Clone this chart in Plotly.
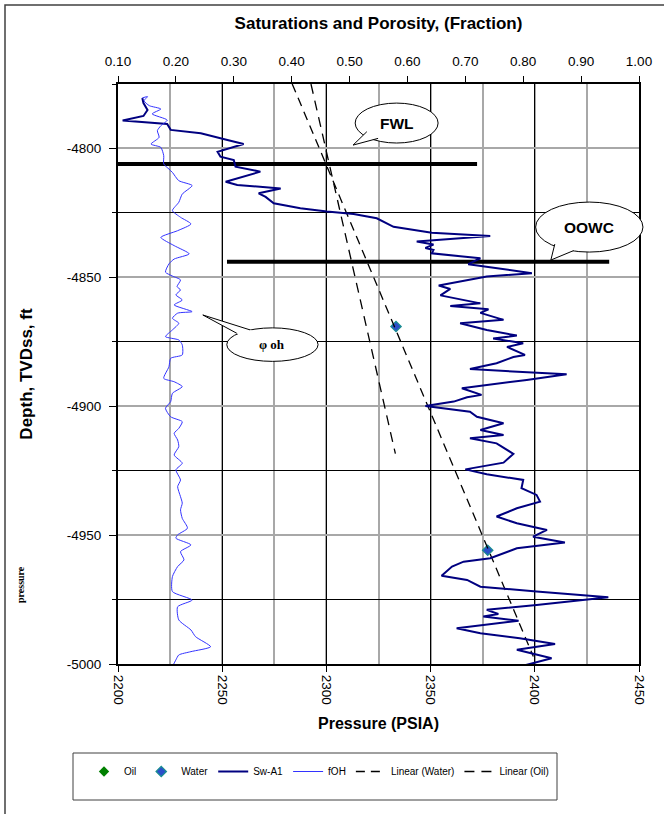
import plotly.graph_objects as go

# ---------------- data ----------------
# Sw-A1 log: water saturation (fraction) vs depth (ft TVDss)
sw_depth = [-4780.4, -4782.4, -4785.1, -4787.4, -4789.2, -4789.7, -4790.5, -4792.8, -4794.1, -4796.7,
            -4798.3, -4801.3, -4803.2, -4804.5, -4807.1, -4809.0, -4812.9, -4814.2, -4815.5, -4817.4,
            -4818.8, -4821.3, -4823.2, -4824.5, -4825.4, -4827.1, -4830.4, -4832.7, -4834.0, -4836.1,
            -4837.3, -4838.6, -4839.4, -4840.7, -4842.6, -4844.9, -4848.4, -4849.7, -4851.7, -4853.2,
            -4854.5, -4857.0, -4860.1, -4861.1, -4862.4, -4863.8, -4866.5, -4867.8, -4870.4, -4872.6,
            -4873.7, -4875.6, -4877.0, -4880.1, -4880.9, -4883.3, -4885.6, -4886.2, -4887.6, -4889.8,
            -4893.0, -4895.6, -4896.5, -4898.2, -4899.9, -4902.1, -4904.1, -4906.6, -4909.2, -4911.2,
            -4912.4, -4914.4, -4918.5, -4921.9, -4924.5, -4926.4, -4928.6, -4931.8, -4934.4, -4937.0,
            -4939.6, -4942.8, -4945.4, -4948.0, -4950.6, -4952.9, -4955.1, -4959.0, -4960.3, -4962.2,
            -4965.8, -4967.4, -4970.0, -4971.9, -4974.1, -4977.1, -4979.0, -4980.6, -4981.6, -4983.2,
            -4986.1, -4988.1, -4990.0, -4992.2, -4994.5, -4997.8, -5001.0]
sw_frac = [0.142, 0.144, 0.151, 0.144, 0.108, 0.145, 0.185, 0.191, 0.243, 0.289,
           0.317, 0.272, 0.277, 0.300, 0.303, 0.346, 0.286, 0.306, 0.381, 0.343,
           0.355, 0.369, 0.415, 0.461, 0.507, 0.547, 0.576, 0.642, 0.743, 0.616,
           0.645, 0.631, 0.645, 0.642, 0.726, 0.705, 0.815, 0.737, 0.691, 0.654,
           0.674, 0.657, 0.726, 0.674, 0.740, 0.726, 0.766, 0.691, 0.737, 0.789,
           0.748, 0.800, 0.772, 0.803, 0.783, 0.754, 0.708, 0.754, 0.875, 0.806,
           0.694, 0.728, 0.703, 0.680, 0.631, 0.708, 0.720, 0.766, 0.726, 0.766,
           0.708, 0.754, 0.783, 0.766, 0.700, 0.737, 0.800, 0.797, 0.823, 0.829,
           0.789, 0.754, 0.789, 0.841, 0.817, 0.872, 0.789, 0.743, 0.697, 0.677,
           0.659, 0.703, 0.726, 0.823, 0.947, 0.823, 0.737, 0.757, 0.731, 0.792,
           0.685, 0.726, 0.794, 0.855, 0.789, 0.849, 0.794]

# fOH log: open-hole porosity (fraction) vs depth
phi_depth = [-4780.4, -4779.9, -4781.5, -4783.4, -4784.7, -4786.6, -4789.0, -4791.2, -4793.1, -4795.7,
             -4798.3, -4799.6, -4802.8, -4806.0, -4808.0, -4809.3, -4812.5, -4814.4, -4817.7, -4820.9,
             -4824.1, -4826.7, -4829.3, -4831.9, -4834.5, -4837.7, -4840.9, -4842.9, -4844.8, -4848.0,
             -4849.5, -4851.0, -4853.6, -4854.9, -4856.8, -4858.8, -4860.7, -4863.3, -4863.9, -4865.9,
             -4867.8, -4870.4, -4873.0, -4874.3, -4876.2, -4880.1, -4881.4, -4884.7, -4889.2, -4890.5,
             -4892.4, -4895.0, -4898.2, -4900.8, -4904.1, -4906.0, -4908.6, -4910.5, -4913.1, -4915.7,
             -4918.9, -4922.1, -4924.7, -4928.6, -4931.2, -4935.1, -4937.6, -4940.2, -4943.5, -4947.3,
             -4949.9, -4951.2, -4953.8, -4956.4, -4959.6, -4962.2, -4966.1, -4971.9, -4975.2, -4977.8,
             -4982.9, -4986.8, -4989.4, -4993.3, -4995.2, -4996.5, -4998.4, -5001.0]
phi_frac = [0.142, 0.151, 0.145, 0.154, 0.174, 0.159, 0.185, 0.174, 0.168, 0.171,
            0.157, 0.174, 0.179, 0.179, 0.188, 0.194, 0.205, 0.228, 0.211, 0.205,
            0.194, 0.208, 0.226, 0.203, 0.174, 0.197, 0.223, 0.197, 0.188, 0.182,
            0.194, 0.208, 0.202, 0.208, 0.200, 0.211, 0.197, 0.228, 0.203, 0.194,
            0.205, 0.194, 0.182, 0.205, 0.211, 0.211, 0.191, 0.188, 0.179, 0.197,
            0.211, 0.194, 0.191, 0.182, 0.191, 0.211, 0.205, 0.197, 0.203, 0.205,
            0.197, 0.211, 0.200, 0.208, 0.203, 0.208, 0.211, 0.208, 0.211, 0.220,
            0.203, 0.200, 0.226, 0.208, 0.214, 0.203, 0.194, 0.194, 0.228, 0.203,
            0.205, 0.226, 0.234, 0.260, 0.226, 0.205, 0.200, 0.194]

# pressure points
water_pressure = [2333.4, 2377.4]
water_depth = [-4869.1, -4955.9]
oil_pressure = [None]
oil_depth = [None]

# trend lines
lin_water_p = [2283.6, 2399.3]
lin_water_d = [-4775.0, -4997.1]
lin_oil_p = [2292.6, 2333.1]
lin_oil_d = [-4775.0, -4918.4]

# contacts
fwl_p = [2197.0, 2372.3]
fwl_d = [-4806.0, -4806.0]
oowc_p = [2252.3, 2435.7]
oowc_d = [-4844.0, -4844.0]

pressure_ticks = [2200, 2250, 2300, 2350, 2400, 2450]
frac_ticks = [0.1, 0.2, 0.3, 0.4, 0.5, 0.6, 0.7, 0.8, 0.9, 1.0]
depth_ticks = [-4800, -4850, -4900, -4950, -5000]

# ---------------- layout geometry ----------------
W, H = 664, 814
ML, MR, MT, MB = 118, 25, 84, 150
PW = W - ML - MR
PH = H - MT - MB
P0, P1 = 2200, 2450
D0, D1 = -5000, -4775


def px_to_paper_x(px):
    return (px - ML) / PW


def py_to_paper_y(py):
    return (H - MB - py) / PH


def p_to_paper(p):
    return (p - P0) / (P1 - P0)


fig = go.Figure()

fig.add_trace(go.Scatter(x=oil_pressure, y=oil_depth, mode="markers", name="Oil",
                         marker=dict(symbol="diamond", color="#008000", size=8)))
fig.add_trace(go.Scatter(x=water_pressure, y=water_depth, mode="markers", name="Water",
                         marker=dict(symbol="diamond", color="#2b4fc9", size=8,
                                     line=dict(color="#1a9090", width=1.2))))
fig.add_trace(go.Scatter(x=sw_frac, y=sw_depth, mode="lines", name="Sw-A1", xaxis="x2",
                         line=dict(color="#000080", width=2)))
fig.add_trace(go.Scatter(x=phi_frac, y=phi_depth, mode="lines", name="fOH", xaxis="x2",
                         line=dict(color="#3333ff", width=1, shape="spline", smoothing=0.6)))
fig.add_trace(go.Scatter(x=lin_water_p, y=lin_water_d, mode="lines", name="Linear (Water)",
                         line=dict(color="black", width=1.3, dash="9px,6px")))
fig.add_trace(go.Scatter(x=lin_oil_p, y=lin_oil_d, mode="lines", name="Linear (Oil)",
                         line=dict(color="black", width=1.3, dash="10px,7px")))
fig.add_trace(go.Scatter(x=fwl_p, y=fwl_d, mode="lines", showlegend=False,
                         line=dict(color="black", width=4)))
fig.add_trace(go.Scatter(x=oowc_p, y=oowc_d, mode="lines", showlegend=False,
                         line=dict(color="black", width=4)))

shapes = []
annotations = []


def callout(x0, x1, y0, y1, tip, e1, e2, text, font):
    # ellipse
    shapes.append(dict(type="circle", xref="paper", yref="y",
                       x0=p_to_paper(x0), x1=p_to_paper(x1), y0=y0, y1=y1,
                       fillcolor="white", line=dict(color="black", width=1), layer="above"))
    # wedge fill covering the ellipse border where the pointer joins
    k = 0.5
    i1 = (e1[0] + k * (e1[0] - tip[0]), e1[1] + k * (e1[1] - tip[1]))
    i2 = (e2[0] + k * (e2[0] - tip[0]), e2[1] + k * (e2[1] - tip[1]))
    path = "M " + " L ".join(f"{p_to_paper(a)},{b}" for a, b in [tip, i1, i2]) + " Z"
    shapes.append(dict(type="path", xref="paper", yref="y", path=path,
                       fillcolor="white", line=dict(width=0), layer="above"))
    path2 = "M " + " L ".join(f"{p_to_paper(a)},{b}" for a, b in [e1, tip, e2])
    shapes.append(dict(type="path", xref="paper", yref="y", path=path2,
                       line=dict(color="black", width=1), layer="above"))
    annotations.append(dict(xref="paper", yref="y", x=p_to_paper((x0 + x1) / 2),
                            y=(y0 + y1) / 2, text=text, showarrow=False, font=font,
                            xanchor="center", yanchor="middle"))


callout(2313.8, 2353.6, -4782.4, -4797.9, (2312.8, -4798.7), (2319.4, -4793.5), (2324.8, -4796.1),
        "<b>FWL</b>", dict(family="Arial, Liberation Sans", size=15.5, color="black"))
callout(2400.4, 2451.9, -4820.8, -4840.2, (2407.7, -4843.3), (2409.6, -4837.1), (2418.7, -4839.6),
        "<b>OOWC</b>", dict(family="Arial, Liberation Sans", size=15.5, color="black"))
callout(2252.2, 2296.0, -4869.6, -4882.6, (2240.7, -4864.6), (2257.0, -4871.7), (2263.4, -4870.4),
        "<b>φ oh</b>", dict(family="Liberation Serif, DejaVu Serif", size=13, color="black"))

# outer frame (left and top edges visible)
shapes.append(dict(type="rect", xref="paper", yref="paper",
                   x0=px_to_paper_x(5), x1=px_to_paper_x(700),
                   y0=py_to_paper_y(900), y1=py_to_paper_y(5),
                   line=dict(color="#404040", width=1.5), layer="below"))
# legend box
shapes.append(dict(type="rect", xref="paper", yref="paper",
                   x0=px_to_paper_x(73), x1=px_to_paper_x(557),
                   y0=py_to_paper_y(800), y1=py_to_paper_y(753),
                   line=dict(color="#404040", width=1), layer="above"))

annotations.append(dict(xref="paper", yref="paper", x=px_to_paper_x(20), y=py_to_paper_y(585),
                        xanchor="center", yanchor="middle",
                        text="<b>pressure</b>", textangle=-90, showarrow=False,
                        font=dict(family="Liberation Serif, DejaVu Serif", size=10, color="black")))

fig.update_layout(
    width=W, height=H,
    margin=dict(l=ML, r=MR, t=MT, b=MB, pad=0),
    paper_bgcolor="white", plot_bgcolor="white",
    font=dict(family="Arial, Liberation Sans, sans-serif", color="black", size=13),
    shapes=shapes, annotations=annotations,
    showlegend=True,
    legend=dict(orientation="h", x=px_to_paper_x(84), y=py_to_paper_y(757),
                xanchor="left", yanchor="top",
                font=dict(size=10, family="Arial, Liberation Sans"),
                bgcolor="rgba(0,0,0,0)", borderwidth=0, itemwidth=30, tracegroupgap=0),
    xaxis=dict(range=[P0, P1], tickvals=pressure_ticks, ticktext=[str(v) for v in pressure_ticks],
               tickangle=90,
               showgrid=True, gridcolor="black", gridwidth=1,
               minor=dict(dtick=25, tick0=2200, showgrid=True, gridcolor="#a8a8a8", gridwidth=1.5, ticks=""),
               showline=True, linecolor="black", linewidth=2, mirror=True,
               ticks="outside", ticklen=6, tickcolor="black",
               tickfont=dict(size=13.5), zeroline=False,
               title=dict(text="<b>Pressure (PSIA)</b>", font=dict(size=16), standoff=14)),
    xaxis2=dict(range=[0.1, 1.0], overlaying="x", side="top", anchor="y",
                tickvals=frac_ticks, ticktext=[f"{v:.2f}" for v in frac_ticks],
                showgrid=False, zeroline=False, showline=True, linecolor="black", linewidth=2,
                ticks="outside", ticklen=6, tickcolor="black", tickfont=dict(size=13.5),
                ticklabelstandoff=5,
                title=dict(text="<b>Saturations and Porosity, (Fraction)</b>", font=dict(size=17),
                           standoff=20)),
    yaxis=dict(range=[D0, D1], tickvals=depth_ticks, ticktext=[str(v) for v in depth_ticks],
               showgrid=True, gridcolor="#a8a8a8", gridwidth=1.5,
               minor=dict(dtick=25, tick0=-5000, showgrid=True, gridcolor="black", gridwidth=1,
                          ticks="outside", ticklen=4, tickcolor="black"),
               showline=True, linecolor="black", linewidth=2, mirror=True,
               ticks="outside", ticklen=7, tickcolor="black", tickfont=dict(size=13.5),
               ticklabelstandoff=5,
               zeroline=False,
               title=dict(text="<b>Depth, TVDss, ft</b>", font=dict(size=17), standoff=30)),
)

fig.write_html("out.html")
